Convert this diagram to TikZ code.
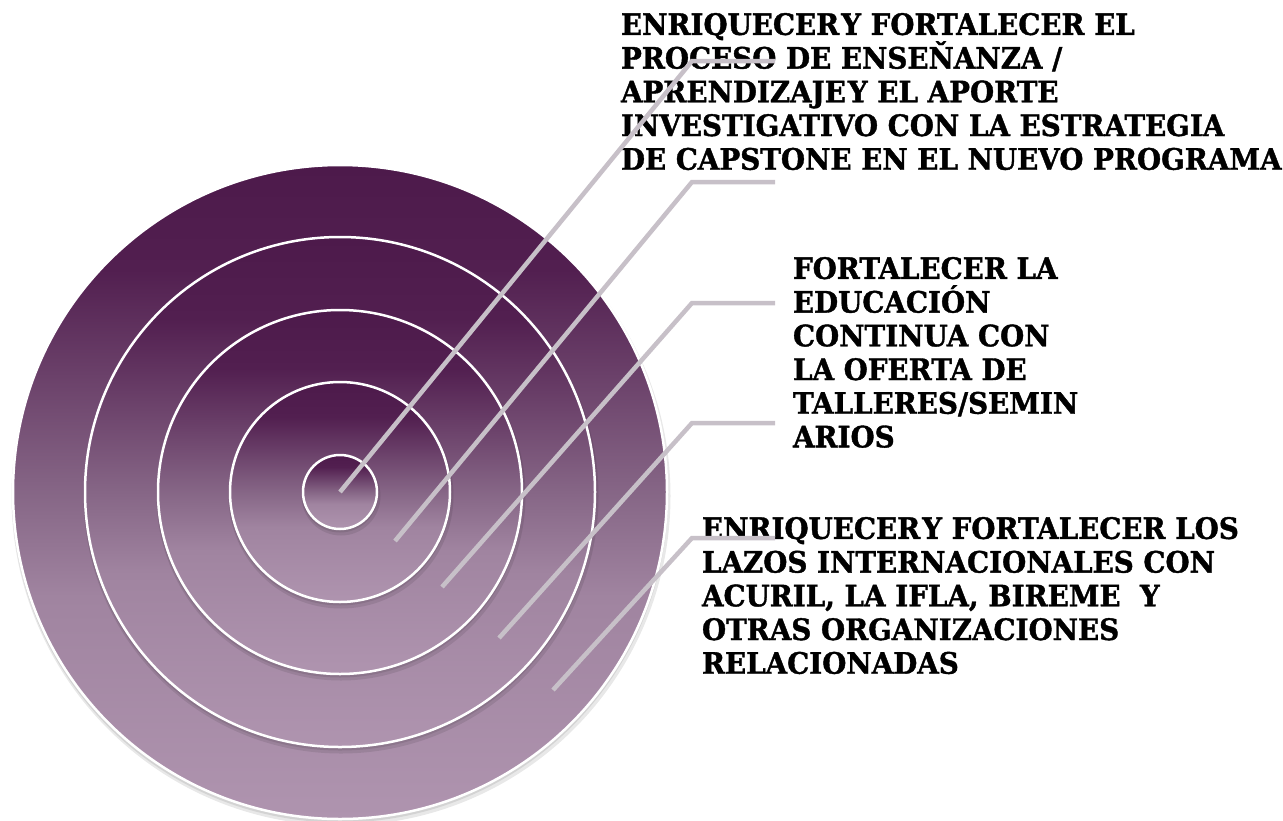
\documentclass[tikz,border=0pt]{standalone}
\usepackage{fontspec}
\setmainfont{DejaVu Serif}
\newfontfamily\lblfont{DejaVu Serif Bold}[FakeStretch=0.94, FakeBold=1.3]
\definecolor{plTop}{HTML}{4D1A4B}
\definecolor{plHigh}{HTML}{521F50}
\definecolor{plMid}{HTML}{866686}
\definecolor{plLow}{HTML}{A084A0}
\definecolor{plBot}{HTML}{AF94AF}
\definecolor{leader}{HTML}{C7C0C8}
\pgfdeclareverticalshading{plum}{100bp}{color(0bp)=(plBot); color(25bp)=(plBot); color(42bp)=(plLow); color(50bp)=(plMid); color(67bp)=(plHigh); color(75bp)=(plTop); color(100bp)=(plTop)}
\tikzset{
  ring/.style={circle, inner sep=0pt, outer sep=0pt, shading=plum, draw=white, line width=2.5pt},
  ringshadow/.style={fill=black, opacity=0.09},
  leaderline/.style={draw=leader, line width=4.5pt, line cap=butt, line join=miter},
  label/.style={anchor=north west, inner sep=0pt, outer sep=0pt, align=left, text=black,
    font=\lblfont\fontsize{29.5}{33.7}\selectfont}
}
\begin{document}
\begin{tikzpicture}[x=1pt,y=-1pt]
\useasboundingbox (0,0) rectangle (1283,820);
% concentric rings
\foreach \r/\n in {327/c5,255/c4,182/c3,110/c2,37/c1}{
  \fill[ringshadow] (341,496) circle (\r+2.5);
  \fill[ringshadow] (340,494.5) circle (\r+1);
  \node[ring, minimum size={2*\r*1pt}] (\n) at (340,492) {};
}
% texts
\node[label] (t1) at (621,13) {ENRIQUECER\kern2pt Y FORTALECER EL\\PROCESO DE ENSEŇANZA /\\APRENDIZAJE\kern2pt Y EL APORTE\\INVESTIGATIVO CON LA ESTRATEGIA\\DE CAPSTONE EN EL NUEVO PROGRAMA};
\node[label] (t2) at (793,257) {FORTALECER LA\\EDUCACIÓN\\CONTINUA CON\\LA OFERTA DE\\TALLERES/SEMIN\\ARIOS};
\node[label] (t3) at (702,517) {ENRIQUECER\kern2pt Y FORTALECER LOS\\LAZOS INTERNACIONALES CON\\ACURIL, LA IFLA, BIREME\ \ Y\\OTRAS ORGANIZACIONES\\RELACIONADAS};
% leader line anchor points
\coordinate (e1) at (c1.center);
\coordinate (e2) at (395,541);
\coordinate (e3) at (442,587);
\coordinate (e4) at (499,638);
\coordinate (e5) at (553,690);
\coordinate (k1) at (692,61);   \coordinate (h1) at (775,61);
\coordinate (k2) at (692,182);  \coordinate (h2) at (775,182);
\coordinate (k3) at (692,303);  \coordinate (h3) at (775,303);
\coordinate (k4) at (692,423);  \coordinate (h4) at (775,423);
\coordinate (k5) at (692,538);  \coordinate (h5) at (775,538);
\foreach \i in {1,...,5}{
  \draw[leaderline] (e\i) -- (k\i) -- (h\i);
}
\end{tikzpicture}
\end{document}
